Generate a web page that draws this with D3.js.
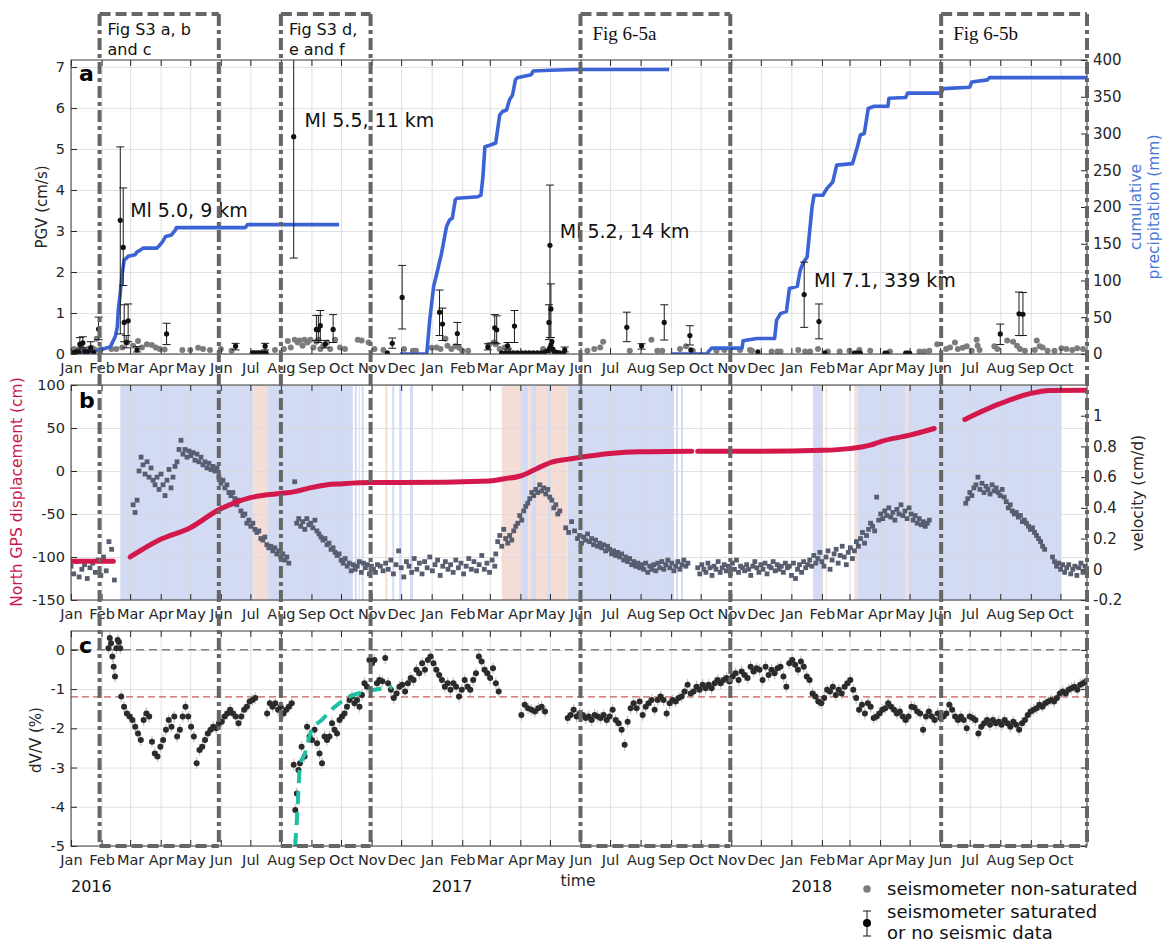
<!DOCTYPE html>
<html><head><meta charset="utf-8">
<script src="https://cdn.jsdelivr.net/npm/d3@7"></script>
<style>body{margin:0;background:#fff}svg text{font-family:"DejaVu Sans",sans-serif}</style>
</head><body><svg id="chart" width="1168" height="942"></svg>
<script>
// ---------------- DATA (days counted from 2016-01-01) ----------------
const startDay = 0, endDay = 1031;
const pgvTicks = [0,1,2,3,4,5,6,7];
const precipTicks = [0,50,100,150,200,250,300,350,400];
const gpsTicks = [-150,-100,-50,0,50,100];
const velTicks = [-0.2,0,0.2,0.4,0.6,0.8,1];
const dvvTicks = [-5,-4,-3,-2,-1,0];
const yearLabels = [["2016",0],["2017",366],["2018",731]];

// cumulative precipitation (mm), three rainy seasons
const precip1 = [[0,0],[29,5],[40,10],[45,24],[47,37],[48,60],[50,83],[52,110],[54,128],[56,130],[58,133],[65,135],[67,139],[70,141],[73,144],[87,144],[90,148],[93,153],[96,160],[102,162],[106,169],[107,172],[177,172],[179,176],[272,176]];
const precip2 = [[334,0],[361,0],[364,46],[368,92],[372,114],[376,137],[381,173],[384,182],[387,185],[390,210],[392,212],[413,214],[416,216],[418,241],[420,282],[425,284],[431,287],[435,325],[438,330],[442,332],[445,346],[448,352],[451,373],[453,376],[467,380],[469,385],[486,386],[511,387],[607,387]];
const precip3 = [[609,0],[645,0],[650,8],[681,8],[682,18],[696,21],[714,21],[716,46],[720,55],[726,58],[729,89],[737,92],[740,114],[743,124],[747,132],[752,200],[754,216],[763,216],[767,225],[773,234],[777,257],[793,259],[798,282],[801,298],[805,300],[809,334],[815,337],[829,337],[830,348],[847,349],[849,355],[883,355],[885,361],[912,363],[914,370],[930,373],[932,376],[1031,376]];

// PGV non-saturated [day, cm/s]
const pgvGray = [[3,.12],[6,.1],[9,.14],[12,.12],[15,.1],[18,.13],[21,.15],[24,.11],[26,.37],[30,.12],[41,.12],[46,.12],[52,.16],[57,.28],[63,.2],[68,.32],[72,.16],[77,.24],[82,.22],[86,.16],[90,.12],[95,.11],[113,.1],[121,.1],[129,.15],[134,.12],[141,.1],[152,.12],[163,.08],[207,.1],[216,.12],[220,.32],[223,.16],[227,.35],[230,.28],[232,.33],[235,.2],[237,.35],[240,.28],[243,.35],[246,.16],[249,.3],[251,.35],[253,.12],[256,.2],[260,.28],[263,.12],[268,.35],[273,.16],[278,.12],[291,.35],[295,.33],[302,.28],[308,.12],[317,.1],[338,.12],[347,.08],[350,.08],[366,.15],[371,.16],[375,.12],[380,.37],[382,.2],[386,.12],[390,.19],[394,.15],[397,.08],[403,.08],[424,.22],[429,.28],[431,.24],[435,.12],[440,.16],[444,.12],[479,.12],[486,.12],[524,.08],[531,.12],[537,.16],[540,.3],[567,.08],[589,.35],[595,.08],[600,.08],[618,.12],[624,.19],[631,.08],[655,.08],[663,.1],[679,.1],[689,.1],[691,.08],[711,.06],[717,.06],[720,.06],[738,.1],[745,.06],[750,.06],[758,.12],[768,.06],[780,.06],[790,.08],[800,.1],[811,.08],[831,.06],[861,.06],[866,.06],[871,.08],[879,.24],[888,.12],[892,.16],[897,.28],[900,.12],[905,.15],[909,.19],[914,.08],[919,.35],[920,.2],[922,.1],[937,.19],[940,.12],[950,.33],[956,.3],[960,.2],[963,.12],[968,.08],[978,.1],[980,.33],[983,.19],[986,.16],[991,.08],[998,.08],[1005,.14],[1010,.12],[1016,.1],[1021,.14],[1027,.12]];
// PGV saturated [day, value, low, high]
const pgvSat = [[9,.24,.12,.4],[12,.27,.15,.42],[20,.15,.05,.3],[28,.61,.35,.9],[50,3.26,.49,5.05],[53,2.6,1.67,4.05],[54,.77,.3,1.2],[56,.28,.15,.45],[58,.81,.3,1.22],[67,.1,.05,.18],[97,.49,.23,.75],[167,.19,.1,.26],[197,.19,.1,.26],[226,5.3,2.34,7.3],[249,.6,.33,.94],[251,.59,.28,.94],[253,.69,.33,1.06],[258,.24,.15,.33],[266,.6,.28,.96],[326,.26,.14,.39],[336,1.38,.61,2.16],[374,1.02,.45,1.56],[377,.73,.33,1.12],[392,.5,.23,.77],[423,.17,.1,.25],[430,.64,.28,.96],[432,.59,.25,.93],[443,.2,.12,.28],[450,.68,.28,1.06],[485,.77,.35,1.2],[486,2.65,.4,4.12],[487,1.1,.4,1.71],[501,.1,.05,.17],[564,.65,.3,1.02],[579,.2,.12,.25],[602,.77,.34,1.2],[628,.45,.22,.69],[744,1.45,.65,2.24],[759,.79,.37,1.22],[943,.49,.23,.73],[962,.98,.45,1.51],[966,.97,.45,1.5]];
// saturated points with negligible error [day, value]
const pgvSatLow = [[2,.03],[5,.05],[8,.04],[14,.06],[17,.05],[23,.04],[184,.03],[186,.03],[188,.02],[190,.03],[192,.03],[194,.02],[196,.03],[198,.03],[321,.03],[437,.03],[441,.03],[445,.03],[449,.03],[453,.03],[457,.03],[461,.03],[465,.03],[469,.03],[473,.03],[477,.03],[481,.05],[484,.08],[486,.15],[487,.22],[488,.3],[489,.12],[490,.06],[493,.04],[496,.03],[500,.03],[629,.1],[697,.05],[765,.03],[795,.02],[797,.02],[799,.02],[801,.02],[826,.02],[828,.02],[847,.02],[849,.02],[851,.02]];

const quakeLabels = [["Ml 5.0, 9 km",60,3.34],["Ml 5.5, 11 km",237,5.53],["Ml 5.2, 14 km",496,2.84],["Ml 7.1, 339 km",754,1.63]];

// North GPS displacement (cm)
const gps1 = [[0,-105],[43,-105]];
const gps2 = [[60,-100],[90,-80],[121,-66],[150,-45],[166,-37],[182,-31],[197,-28],[213,-26],[222,-25],[227,-24],[245,-19],[260,-16],[273,-15],[304,-13.5],[334,-13.5],[425,-11.6],[440,-9],[456,-5.8],[473,3],[486,9.6],[503,13.5],[516,15.8],[547,20.4],[577,22.4],[630,23.1]];
const gps3 = [[636,23],[699,23],[763,24],[790,26],[811,30],[821,34],[851,41.7],[876,49.4]];
const gps4 = [[907,60],[942,78],[973,90],[993,93.7],[1031,94]];

// velocity (cm/d): segments [firstDay, lastDay, values evenly spread]
const vel1 = [0,44,[0.02,-0.03,0.05,-0.05,0.0,0.03,-0.06,0.01,0.04,-0.02,0.06,-0.04,0.08,-0.01,0.18,0.13,-0.07]];
const vel2 = [63,221,[0.42,0.37,0.45,0.64,0.73,0.68,0.62,0.7,0.6,0.66,0.58,0.55,0.6,0.52,0.62,0.55,0.48,0.58,0.65,0.53,0.6,0.67,0.7,0.78,0.84,0.75,0.78,0.73,0.77,0.74,0.76,0.71,0.75,0.7,0.73,0.68,0.7,0.66,0.69,0.65,0.67,0.64,0.66,0.6,0.56,0.58,0.53,0.55,0.5,0.48,0.5,0.46,0.42,0.45,0.38,0.35,0.36,0.3,0.32,0.28,0.3,0.26,0.24,0.25,0.2,0.19,0.21,0.16,0.14,0.15,0.12,0.14,0.1,0.12,0.08,0.1,0.06,0.08,0.04]];
const vel3 = [227,311,[0.57,0.3,0.33,0.28,0.31,0.26,0.33,0.29,0.3,0.27,0.32,0.25,0.23,0.21,0.19,0.2,0.16,0.17,0.13,0.14,0.11,0.09,0.1,0.06,0.04,0.07,0.02,0.04,-0.01,0.03,0.0,0.02,0.05,-0.02,0.04,0.01,0.03,-0.03,0.02,0.0,-0.02,0.03]];
const vel4 = [314,430,[0.02,-0.01,0.04,0.0,0.06,-0.03,0.03,0.12,0.01,-0.05,0.05,0.02,-0.02,0.07,0.0,0.04,-0.03,0.05,0.01,0.08,-0.01,0.03,0.06,-0.04,0.02,0.05,0.0,0.03,-0.02,0.06,0.01,0.04,-0.03,0.02,0.07,0.0,0.05,-0.01,0.03,0.09,0.0,0.04,-0.02,0.06,0.02]];
const vel5 = [431,496,[0.1,0.18,0.22,0.15,0.26,0.2,0.17,0.22,0.19,0.25,0.28,0.3,0.35,0.32,0.38,0.41,0.43,0.46,0.5,0.48,0.52,0.5,0.55,0.51,0.53,0.49,0.52,0.47,0.45,0.4,0.42,0.36,0.38]];
const vel6 = [502,511,[0.27,0.24,0.31,0.25]];
const vel7 = [514,626,[0.2,0.22,0.17,0.21,0.19,0.23,0.18,0.2,0.16,0.19,0.15,0.17,0.14,0.16,0.12,0.15,0.13,0.1,0.12,0.09,0.11,0.08,0.1,0.06,0.08,0.05,0.07,0.03,0.05,0.02,0.04,0.01,0.03,0.0,0.04,-0.02,0.02,0.0,0.03,-0.01,0.04,0.01,0.05,0.0,0.03,0.06,0.01,0.04,-0.01,0.02,0.05,0.0,0.03,0.06,0.02,0.04]];
const vel8 = [636,727,[0.01,-0.03,0.03,0.0,-0.02,0.04,0.01,-0.04,0.02,0.0,0.05,-0.02,0.01,0.03,-0.01,0.02,-0.03,0.04,0.0,0.06,-0.02,0.02,0.01,-0.01,0.03,0.0,-0.04,0.02,0.05,0.01,-0.02,0.03,0.0,0.04,-0.03,0.02,0.01,0.05,-0.01,0.03,0.0,0.02,-0.02,0.04,0.01]];
const vel9 = [729,795,[0.02,-0.04,0.04,-0.06,0.0,0.03,-0.02,0.05,0.01,0.03,0.06,0.02,0.09,0.04,0.07,0.11,0.05,0.02,0.08,0.12,0.0,0.06,0.1,0.13,0.04,0.09,0.15,0.08,0.03,0.11,0.14,0.07,0.12]];
const vel10 = [797,871,[0.18,0.15,0.2,0.24,0.17,0.22,0.26,0.3,0.28,0.25,0.47,0.32,0.36,0.33,0.38,0.35,0.4,0.34,0.37,0.32,0.39,0.36,0.42,0.35,0.38,0.33,0.4,0.36,0.32,0.35,0.3,0.33,0.29,0.31,0.28,0.3,0.32]];
const vel11 = [908,988,[0.43,0.46,0.5,0.48,0.53,0.55,0.6,0.52,0.56,0.5,0.54,0.52,0.49,0.55,0.51,0.53,0.5,0.48,0.52,0.47,0.44,0.4,0.42,0.38,0.36,0.37,0.34,0.35,0.31,0.32,0.3,0.28,0.26,0.27,0.24,0.22,0.2,0.18,0.15,0.13]];
const vel12 = [996,1031,[0.08,0.05,0.02,0.04,0.0,0.03,-0.02,0.01,0.03,-0.03,0.0,0.02,-0.04,0.01,0.04,-0.02,0.02,0.0]];

// background periods in panel b [firstDay, lastDay]
const bandsBlue = [[50,185],[200,286],[288,290],[292,293],[295,297],[326,328],[333,335],[344,347],[457,464],[467,472],[484,486],[504,612],[614,616],[619,621],[753,763],[798,847],[849,1005]];
const bandsOrange = [[185,200],[319,321],[437,457],[464,467],[472,484],[486,504],[766,767],[795,798],[847,849]];

// dV/V (%) segments [firstDay, lastDay, values]
const dvv1 = [38,50,[0.04,0.3,0.17,-0.17,-0.43,-0.68,0.04,0.25,0.2,0.04]];
const dvv2 = [51,187,[-1.19,-1.45,-1.62,-1.7,-1.79,-1.96,-2.13,-2.3,-1.79,-1.62,-1.7,-2.34,-2.64,-2.72,-2.47,-2.3,-2.04,-1.79,-1.96,-1.7,-2.21,-2.04,-1.7,-1.45,-1.7,-1.96,-2.21,-2.89,-2.55,-2.47,-2.3,-2.13,-2.04,-1.96,-2.0,-1.87,-1.83,-1.7,-1.62,-1.53,-1.62,-1.7,-1.87,-1.7,-1.53,-1.45,-1.32,-1.28,-1.23]];
const dvv3 = [199,224,[-1.62,-1.36,-1.45,-1.36,-1.53,-1.45,-1.62,-1.53,-1.45,-1.36]];
const dvv4 = [226,234,[-2.93,-4.08,-3.66,-3.06,-2.89,-2.47]];
const dvv5 = [237,313,[-2.72,-1.96,-2.21,-2.3,-2.04,-2.38,-2.64,-2.89,-2.21,-2.3,-2.21,-1.87,-2.04,-2.13,-1.79,-1.7,-1.62,-1.45,-1.28,-1.19,-1.36,-1.28,-1.45,-1.15,-0.85,-0.94,-0.26,-0.34,-0.26,-0.85,-0.77]];
const dvv6 = [316,434,[-0.8,-0.21,-0.85,-1.02,-1.23,-1.11,-0.94,-0.89,-1.06,-0.85,-0.72,-0.77,-0.51,-0.6,-0.34,-0.51,-0.26,-0.17,-0.34,-0.51,-0.64,-0.77,-0.94,-0.85,-1.02,-0.85,-0.94,-1.19,-1.02,-0.77,-0.94,-1.02,-0.77,-0.6,-0.17,-0.3,-0.51,-0.6,-0.72,-0.47,-0.85,-1.06]];
const dvv7 = [457,481,[-1.66,-1.4,-1.49,-1.53,-1.57,-1.49,-1.45,-1.57]];
const dvv8 = [504,717,[-1.74,-1.66,-1.53,-1.7,-1.62,-1.66,-1.74,-1.7,-1.79,-1.66,-1.7,-1.74,-1.66,-1.79,-1.7,-1.53,-1.79,-1.87,-2.04,-2.42,-1.83,-1.49,-1.36,-1.49,-1.32,-1.66,-1.45,-1.36,-1.28,-1.53,-1.28,-1.19,-1.28,-1.62,-1.36,-1.28,-1.32,-1.23,-1.19,-1.06,-0.89,-1.11,-1.06,-0.94,-1.02,-0.89,-0.98,-0.89,-0.98,-0.85,-0.77,-0.85,-0.77,-0.72,-0.81,-0.68,-0.6,-0.77,-0.55,-0.64,-0.72,-0.43,-0.55,-0.47,-0.51,-0.77,-0.43,-0.64,-0.51,-0.6,-0.47]];
const dvv9 = [720,1030,[-0.43,-0.68,-0.94,-0.34,-0.26,-0.38,-0.51,-0.3,-0.43,-0.68,-0.77,-1.11,-1.19,-1.32,-1.36,-1.23,-1.02,-1.06,-0.94,-1.15,-1.02,-1.11,-0.94,-0.85,-0.77,-1.02,-1.23,-1.53,-1.4,-1.62,-1.36,-1.45,-1.74,-1.7,-1.62,-1.53,-1.49,-1.36,-1.45,-1.53,-1.62,-1.57,-1.7,-1.79,-1.7,-1.45,-1.47,-1.57,-1.62,-2.04,-1.7,-1.57,-1.7,-1.79,-1.62,-1.74,-1.7,-1.62,-1.4,-1.53,-1.7,-1.79,-1.7,-1.79,-2.0,-1.7,-1.74,-1.79,-2.13,-1.96,-1.87,-1.79,-1.91,-1.79,-1.87,-1.83,-1.91,-1.79,-1.87,-1.96,-1.83,-1.91,-2.04,-1.87,-1.79,-1.66,-1.57,-1.53,-1.49,-1.4,-1.45,-1.36,-1.32,-1.28,-1.32,-1.23,-1.11,-1.06,-1.11,-1.02,-0.98,-0.94,-1.02,-0.89,-0.85,-0.81]];
const dvvErr = 0.15;
const dvvRef = -1.2;
const recoveryFit = [[227.5,-5],[230,-4.0],[232.3,-2.98],[237.4,-2.64],[244.2,-2.04],[254.3,-1.79],[266,-1.49],[283,-1.19],[300,-1.06],[316.8,-0.98],[326,-0.95]];

// dashed boxes [firstDay, lastDay, label lines, serif?]
const boxes = [[29,150,["Fig S3 a, b","and c"],false],[213,304,["Fig S3 d,","e and f"],false],[517,669,["Fig 6-5a"],true],[883,1031,["Fig 6-5b"],true]];

// ---------------- DRAWING ----------------
const svg = d3.select('#chart');
const DAY0 = Date.UTC(2016,0,1);
const toDate = d => new Date(DAY0 + d*864e5);
const L = 71, R = 1087;
const x = d3.scaleUtc().domain([toDate(startDay), toDate(endDay)]).range([L, R]);
const dark = '#262626';
const plain = d => String(d);
const panels = {a:{top:60,bottom:354}, b:{top:385,bottom:600}, c:{top:631,bottom:846}};
const yA = d3.scaleLinear().domain([0,7.17]).range([354,60]);
const yA2 = d3.scaleLinear().domain([0,400]).range([354,60]);
const yB = d3.scaleLinear().domain([-150,100]).range([600,385]);
const yB2 = d3.scaleLinear().domain([-0.2,1.2]).range([600,385]);
const yC = d3.scaleLinear().domain([-5,0.48]).range([846,631]);
const monthEvery = d3.utcMonth.every(1);

Object.entries(panels).forEach(([k,p])=>{
  svg.append('clipPath').attr('id','clip'+k).append('rect')
    .attr('x',L).attr('y',p.top).attr('width',R-L).attr('height',p.bottom-p.top);
});

function spread(seg){ const [a,b,v]=seg; const n=v.length; return v.map((val,i)=>[n>1? a+(b-a)*i/(n-1):a, val]); }

function grid(p, y, yt){
  const g = svg.append('g');
  g.append('g').attr('transform',`translate(0,${p.bottom})`)
    .call(d3.axisBottom(x).ticks(monthEvery).tickSize(-(p.bottom-p.top)).tickFormat(''))
    .call(s=>{s.select('.domain').remove(); s.selectAll('line').attr('stroke','#d9d9d9').attr('stroke-width',0.8);});
  g.append('g').attr('transform',`translate(${L},0)`)
    .call(d3.axisLeft(y).tickValues(yt).tickSize(-(R-L)).tickFormat(''))
    .call(s=>{s.select('.domain').remove(); s.selectAll('line').attr('stroke','#d9d9d9').attr('stroke-width',0.8);});
}

function styleAxis(s, fs){
  s.select('.domain').remove();
  s.selectAll('line').attr('stroke',dark).attr('stroke-width',1);
  s.selectAll('text').attr('fill',dark).style('font-size',fs+'px').style('font-family','"DejaVu Sans",sans-serif');
}

function frame(p, y, yt, y2, y2t, rightLabels){
  const g = svg.append('g');
  g.append('g').attr('transform',`translate(0,${p.bottom})`)
    .call(d3.axisBottom(x).ticks(monthEvery).tickFormat(d3.utcFormat('%b')).tickSizeInner(-6).tickSizeOuter(0).tickPadding(9))
    .call(s=>styleAxis(s,14.5));
  g.append('g').attr('transform',`translate(0,${p.top})`)
    .call(d3.axisTop(x).ticks(monthEvery).tickFormat('').tickSizeInner(-6).tickSizeOuter(0))
    .call(s=>styleAxis(s,14));
  g.append('g').attr('transform',`translate(${L},0)`)
    .call(d3.axisLeft(y).tickValues(yt).tickSizeInner(-6).tickSizeOuter(0).tickPadding(6).tickFormat(plain))
    .call(s=>styleAxis(s,14.5));
  g.append('g').attr('transform',`translate(${R},0)`)
    .call(d3.axisRight(y2).tickValues(y2t).tickSizeInner(-6).tickSizeOuter(0).tickPadding(6).tickFormat(rightLabels? plain : ''))
    .call(s=>styleAxis(s,15));
  g.append('rect').attr('x',L).attr('y',p.top).attr('width',R-L).attr('height',p.bottom-p.top)
    .attr('fill','none').attr('stroke','#3a3a3a').attr('stroke-width',1);
}

// ---- Panel a ----
const pa = panels.a;
grid(pa, yA, pgvTicks);
const ga = svg.append('g').attr('clip-path','url(#clipa)');
ga.selectAll('circle.gray').data(pgvGray).join('circle').attr('class','gray')
  .attr('cx',d=>x(toDate(d[0]))).attr('cy',d=>yA(d[1])).attr('r',3).attr('fill','#7c7c7c');
const precipLine = d3.line().x(d=>x(toDate(d[0]))).y(d=>yA2(d[1]));
[precip1,precip2,precip3].forEach(s=>ga.append('path').attr('d',precipLine(s)).attr('fill','none')
  .attr('stroke','#3b63d6').attr('stroke-width',3.6).attr('stroke-linejoin','round'));
const sat = ga.selectAll('g.sat').data(pgvSat).join('g').attr('class','sat');
sat.append('line').attr('x1',d=>x(toDate(d[0]))).attr('x2',d=>x(toDate(d[0])))
  .attr('y1',d=>yA(d[2])).attr('y2',d=>yA(d[3])).attr('stroke','#1a1a1a').attr('stroke-width',1);
[2,3].forEach(j=>sat.append('line').attr('x1',d=>x(toDate(d[0]))-4).attr('x2',d=>x(toDate(d[0]))+4)
  .attr('y1',d=>yA(d[j])).attr('y2',d=>yA(d[j])).attr('stroke','#1a1a1a').attr('stroke-width',1));
sat.append('circle').attr('cx',d=>x(toDate(d[0]))).attr('cy',d=>yA(d[1])).attr('r',2.6).attr('fill','#111');
ga.selectAll('circle.low').data(pgvSatLow).join('circle').attr('class','low')
  .attr('cx',d=>x(toDate(d[0]))).attr('cy',d=>yA(d[1])).attr('r',2.6).attr('fill','#111');
frame(pa, yA, pgvTicks, yA2, precipTicks, true);
svg.selectAll('text.quake').data(quakeLabels).join('text').attr('class','quake')
  .attr('x',d=>x(toDate(d[1]))).attr('y',d=>yA(d[2])).text(d=>d[0])
  .attr('fill','#111').style('font-size','19px');

// ---- Panel b ----
const pb = panels.b;
const gb0 = svg.append('g').attr('clip-path','url(#clipb)');
gb0.selectAll('rect.bb').data(bandsBlue).join('rect').attr('class','bb')
  .attr('x',d=>x(toDate(d[0]))).attr('width',d=>x(toDate(d[1]))-x(toDate(d[0])))
  .attr('y',pb.top).attr('height',pb.bottom-pb.top).attr('fill','#d3dbf4');
gb0.selectAll('rect.bo').data(bandsOrange).join('rect').attr('class','bo')
  .attr('x',d=>x(toDate(d[0]))).attr('width',d=>Math.max(1,x(toDate(d[1]))-x(toDate(d[0]))))
  .attr('y',pb.top).attr('height',pb.bottom-pb.top).attr('fill','#f3ddd6');
grid(pb, yB, gpsTicks);
const gb = svg.append('g').attr('clip-path','url(#clipb)');
const velPts = [vel1,vel2,vel3,vel4,vel5,vel6,vel7,vel8,vel9,vel10,vel11,vel12].flatMap(spread);
gb.selectAll('rect.v').data(velPts).join('rect').attr('class','v')
  .attr('x',d=>x(toDate(d[0]))-2.4).attr('y',d=>yB2(d[1])-2.4).attr('width',4.8).attr('height',4.8)
  .attr('fill','#585e70');
const gpsLine = d3.line().x(d=>x(toDate(d[0]))).y(d=>yB(d[1])).curve(d3.curveMonotoneX);
[gps1,gps2,gps3,gps4].forEach(s=>gb.append('path').attr('d',gpsLine(s)).attr('fill','none')
  .attr('stroke','#d3184b').attr('stroke-width',5).attr('stroke-linecap','round'));
frame(pb, yB, gpsTicks, yB2, velTicks, true);

// ---- Panel c ----
const pc = panels.c;
grid(pc, yC, dvvTicks);
const gc = svg.append('g').attr('clip-path','url(#clipc)');
gc.append('line').attr('x1',L).attr('x2',R).attr('y1',yC(0)).attr('y2',yC(0))
  .attr('stroke','#808080').attr('stroke-width',1.5).attr('stroke-dasharray','8,5');
gc.append('line').attr('x1',L).attr('x2',R).attr('y1',yC(dvvRef)).attr('y2',yC(dvvRef))
  .attr('stroke','#b83030').attr('stroke-width',1).attr('stroke-dasharray','7,4');
const dvvPts = [dvv1,dvv2,dvv3,dvv4,dvv5,dvv6,dvv7,dvv8,dvv9].flatMap(spread);
gc.selectAll('line.err').data(dvvPts).join('line').attr('class','err')
  .attr('x1',d=>x(toDate(d[0]))).attr('x2',d=>x(toDate(d[0])))
  .attr('y1',d=>yC(d[1]-dvvErr)).attr('y2',d=>yC(d[1]+dvvErr)).attr('stroke','#c4c4c4').attr('stroke-width',1.2);
gc.selectAll('circle.dvv').data(dvvPts).join('circle').attr('class','dvv')
  .attr('cx',d=>x(toDate(d[0]))).attr('cy',d=>yC(d[1])).attr('r',3).attr('fill','#2b2b2b');
const fitLine = d3.line().x(d=>x(toDate(d[0]))).y(d=>yC(d[1])).curve(d3.curveMonotoneX);
gc.append('path').attr('d',fitLine(recoveryFit)).attr('fill','none').attr('stroke','#1fbfa6')
  .attr('stroke-width',4).attr('stroke-dasharray','13,8');
frame(pc, yC, dvvTicks, yC, dvvTicks, false);

// panel letters
[['a',81],['b',408],['c',653]].forEach(([t,yy])=>svg.append('text').attr('x',79).attr('y',yy).text(t)
  .style('font-size','22px').style('font-weight','bold').attr('fill','#000'));

// axis titles
function vlabel(t, xx, yy, col, fs){
  svg.append('text').attr('transform',`translate(${xx},${yy}) rotate(-90)`).attr('text-anchor','middle')
    .text(t).attr('fill',col).style('font-size',fs+'px');
}
vlabel('PGV (cm/s)', 47, 207, dark, 15);
vlabel('North GPS displacement (cm)', 22, 492, '#c8174f', 15.5);
vlabel('dV/V (%)', 41, 740, dark, 15);
vlabel('cumulative', 1141, 207, '#4a77d6', 15.5);
vlabel('precipitation (mm)', 1159, 207, '#4a77d6', 15.5);
vlabel('velocity (cm/d)', 1143, 493, dark, 15.5);

// years and time
svg.selectAll('text.year').data(yearLabels).join('text').attr('class','year')
  .attr('x',d=>x(toDate(d[1]))).attr('y',892).text(d=>d[0]).attr('fill','#111').style('font-size','16px');
svg.append('text').attr('x',578).attr('y',886).attr('text-anchor','middle').text('time')
  .attr('fill',dark).style('font-size',15.5+'px');

// legend
svg.append('circle').attr('cx',867).attr('cy',889).attr('r',3.8).attr('fill','#7c7c7c');
svg.append('text').attr('x',887).attr('y',895).text('seismometer non-saturated').attr('fill','#111').style('font-size','18px');
svg.append('line').attr('x1',867).attr('x2',867).attr('y1',911).attr('y2',936).attr('stroke','#111');
[911,936].forEach(yy=>svg.append('line').attr('x1',863).attr('x2',871).attr('y1',yy).attr('y2',yy).attr('stroke','#111'));
svg.append('circle').attr('cx',867).attr('cy',923).attr('r',4).attr('fill','#000');
svg.append('text').attr('x',887).attr('y',918).text('seismometer saturated').attr('fill','#111').style('font-size','18px');
svg.append('text').attr('x',887).attr('y',939).text('or no seismic data').attr('fill','#111').style('font-size','18px');

// dashed boxes
const boxTop = 14, boxBottom = 846;
boxes.forEach(([d0,d1,lines,serif])=>{
  const x0 = x(toDate(d0)), x1 = x(toDate(d1));
  const g = svg.append('g').attr('fill','none').attr('stroke','#666').attr('stroke-width',4);
  g.append('line').attr('x1',x0).attr('x2',x1).attr('y1',boxTop).attr('y2',boxTop).attr('stroke-dasharray','11,5');
  g.append('line').attr('x1',x0).attr('x2',x1).attr('y1',boxBottom).attr('y2',boxBottom).attr('stroke-dasharray','11,5');
  [x0,x1].forEach(xx=>g.append('line').attr('x1',xx).attr('x2',xx).attr('y1',boxTop).attr('y2',boxBottom).attr('stroke-dasharray','12,4,4,4'));
  lines.forEach((t,i)=>{
    const tx = svg.append('text').attr('x', x0 + (serif? 12: 8)).attr('y', serif? 40 : 35 + i*20).text(t).attr('fill','#111');
    if(serif) tx.style('font-family','"Liberation Serif",serif').style('font-size','19px');
    else tx.style('font-size','16px');
  });
});
</script></body></html>
